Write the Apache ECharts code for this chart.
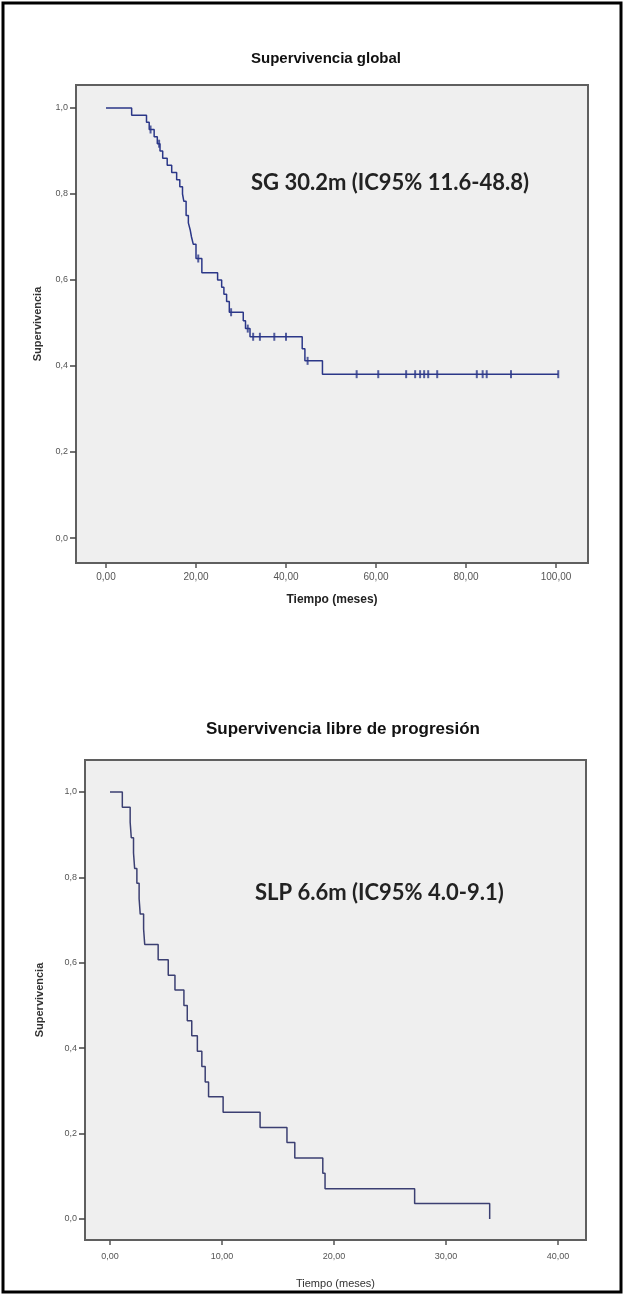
<!DOCTYPE html>
<html lang="es">
<head>
<meta charset="UTF-8">
<title>Supervivencia</title>
<style>
  html, body { margin: 0; padding: 0; background: #fff; }
  #main { width: 625px; height: 1296px; }
</style>
</head>
<body>
<div id="main"></div>
<script src="https://cdn.jsdelivr.net/npm/echarts@6/dist/echarts.min.js"></script>
<script>
// Supervivencia global: [meses, supervivencia tras cada evento]
var sgEventos = [
  [0, 1.0], [5.7, 0.983], [9.0, 0.967], [9.6, 0.950], [10.7, 0.933], [11.4, 0.917],
  [12.0, 0.900], [12.6, 0.883], [13.6, 0.867], [14.6, 0.850], [15.7, 0.833],
  [16.4, 0.817], [17.0, 0.800], [17.3, 0.783], [17.8, 0.750], [18.3, 0.733],
  [18.7, 0.717], [19.0, 0.700], [19.4, 0.683], [20.0, 0.650], [21.3, 0.617],
  [24.8, 0.600], [25.7, 0.583], [26.2, 0.567], [26.8, 0.550], [27.4, 0.525],
  [30.5, 0.505], [31.0, 0.487], [32.0, 0.468], [43.6, 0.440], [44.2, 0.412],
  [48.1, 0.381], [100.5, 0.381]
];
// casos censurados (marcas +)
var sgCensuras = [
  [9.9, 0.950], [11.8, 0.917], [20.5, 0.650], [27.8, 0.525], [31.5, 0.487],
  [32.7, 0.468], [34.2, 0.468], [37.4, 0.468], [40.0, 0.468], [44.8, 0.412],
  [55.7, 0.381], [60.5, 0.381], [66.7, 0.381], [68.7, 0.381], [69.8, 0.381],
  [70.7, 0.381], [71.6, 0.381], [73.6, 0.381], [82.4, 0.381], [83.7, 0.381],
  [84.6, 0.381], [90.0, 0.381], [100.5, 0.381]
];
// Supervivencia libre de progresión
var slpEventos = [
  [0, 1.0], [1.1, 0.964], [1.8, 0.929], [1.9, 0.893], [2.1, 0.857], [2.2, 0.821],
  [2.4, 0.786], [2.6, 0.750], [2.7, 0.714], [3.0, 0.679], [3.1, 0.643],
  [4.3, 0.607], [5.2, 0.571], [5.8, 0.536], [6.6, 0.500], [6.9, 0.464],
  [7.3, 0.429], [7.8, 0.393], [8.2, 0.357], [8.5, 0.321], [8.8, 0.286],
  [10.1, 0.250], [13.4, 0.214], [15.8, 0.179], [16.5, 0.143], [19.0, 0.107],
  [19.2, 0.071], [27.2, 0.036], [33.9, 0.0]
];

var ticksSgX = [0, 20, 40, 60, 80, 100];
var ticksSlpX = [0, 10, 20, 30, 40];
var ticksY = [0, 0.2, 0.4, 0.6, 0.8, 1.0];

function fmtX(v) { return v.toFixed(2).replace('.', ','); }
function fmtY(v) { return v.toFixed(1).replace('.', ','); }

var gris = '#5f5f5f';
var fuente = 'Liberation Sans';

function ejeX(idx, min, max, ticks, nameGap, margin, nameStyle, fs) {
  return {
    gridIndex: idx, type: 'value', min: min, max: max,
    axisLine: { show: true, onZero: false, lineStyle: { color: gris, width: 2 } },
    axisTick: { show: true, customValues: ticks, length: 5, lineStyle: { color: '#555', width: 1.5 } },
    axisLabel: { customValues: ticks, formatter: fmtX, fontSize: fs, color: '#555', fontFamily: fuente, margin: margin },
    splitLine: { show: false },
    name: 'Tiempo (meses)', nameLocation: 'middle', nameGap: nameGap,
    nameTextStyle: nameStyle
  };
}
function ejeY(idx, min, max, nameGap, fs) {
  return {
    gridIndex: idx, type: 'value', min: min, max: max,
    axisLine: { show: true, onZero: false, lineStyle: { color: gris, width: 2 } },
    axisTick: { show: true, customValues: ticksY, length: 6, lineStyle: { color: '#444', width: 1.5 } },
    axisLabel: { customValues: ticksY, formatter: fmtY, fontSize: fs, color: '#555', fontFamily: fuente, margin: 8 },
    splitLine: { show: false },
    name: 'Supervivencia', nameLocation: 'middle', nameGap: nameGap,
    nameTextStyle: { fontSize: 11, fontWeight: 'bold', color: '#333', fontFamily: fuente }
  };
}

var chart = echarts.init(document.getElementById('main'));
chart.setOption({
  backgroundColor: '#fff',
  animation: false,
  title: [
    { text: 'Supervivencia global', left: 321, top: 46, textAlign: 'center',
      textStyle: { fontSize: 15, fontWeight: 'bold', color: '#111', fontFamily: fuente } },
    { text: 'Supervivencia libre de progresión', left: 338, top: 716, textAlign: 'center',
      textStyle: { fontSize: 17, fontWeight: 'bold', color: '#111', fontFamily: fuente } }
  ],
  grid: [
    { left: 76, top: 85, width: 512, height: 478, show: true, backgroundColor: '#efefef', borderColor: gris, borderWidth: 2 },
    { left: 85, top: 760, width: 501, height: 480, show: true, backgroundColor: '#efefef', borderColor: gris, borderWidth: 2 }
  ],
  xAxis: [
    ejeX(0, -6.667, 107.11, ticksSgX, 31, 9, { fontSize: 12, fontWeight: 'bold', color: '#222', fontFamily: fuente }, 10),
    ejeX(1, -2.232, 42.5, ticksSlpX, 38, 12, { fontSize: 11, color: '#333', fontFamily: fuente }, 9)
  ],
  yAxis: [
    ejeY(0, -0.0581, 1.0535, 33, 9),
    ejeY(1, -0.0492, 1.0749, 40, 9)
  ],
  graphic: [
    { type: 'rect', shape: { x: 3, y: 3, width: 618, height: 1289 },
      style: { fill: 'none', stroke: '#000', lineWidth: 3 } },
    { type: 'text', x: 251, y: 183,
      style: { text: 'SG 30.2m (IC95% 11.6-48.8)', font: 'bold 22px Lato', fill: '#222', verticalAlign: 'middle' } },
    { type: 'text', x: 255, y: 893,
      style: { text: 'SLP 6.6m (IC95% 4.0-9.1)', font: 'bold 22px Lato', fill: '#222', verticalAlign: 'middle' } }
  ],
  series: [
    { type: 'line', xAxisIndex: 0, yAxisIndex: 0, data: sgEventos, step: 'end',
      showSymbol: false, lineStyle: { color: '#2b3788', width: 1.5 } },
    { type: 'scatter', xAxisIndex: 0, yAxisIndex: 0, data: sgCensuras,
      symbol: 'rect', symbolSize: [2, 8], itemStyle: { color: '#2b3788' } },
    { type: 'line', xAxisIndex: 1, yAxisIndex: 1, data: slpEventos, step: 'end',
      showSymbol: false, lineStyle: { color: '#3b3f72', width: 1.5 } }
  ]
});
</script>
</body>
</html>
